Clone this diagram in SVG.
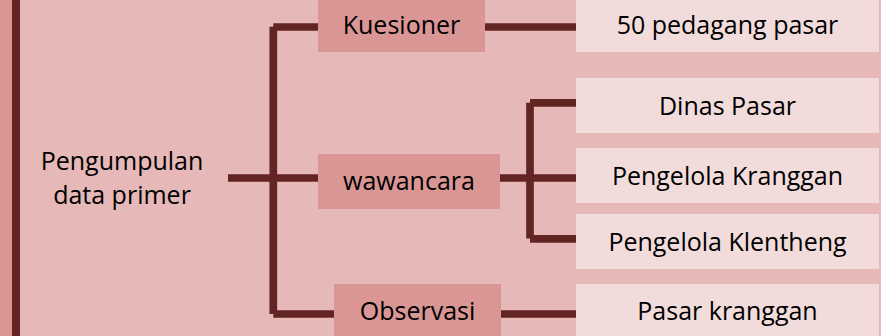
<svg xmlns="http://www.w3.org/2000/svg" width="881" height="336" viewBox="0 0 881 336">
  <style>
    .bg { fill: #E6B8B7; }
    .strip { fill: #DA9694; }
    .mid { fill: #DA9694; }
    .leaf { fill: #F2DCDB; }
    .lbl { font-family: "Open Sans", "Noto Sans", "Liberation Sans", sans-serif; font-size: 25px; fill: #000; text-anchor: middle; }
    .wire { stroke: #632523; stroke-width: 7.7; fill: none; stroke-linecap: butt; }
  </style>

  <!-- backdrop and left band -->
  <rect class="bg" x="0" y="0" width="881" height="336"/>
  <rect class="strip" x="0" y="0" width="12" height="336"/>
  <rect x="12" y="0" width="8" height="336" fill="#632523"/>

  <!-- connectors -->
  <g id="connectors" class="wire">
    <line x1="228" y1="178" x2="318" y2="178"/>
    <line x1="273.3" y1="26.7" x2="273.3" y2="314"/>
    <line x1="273.3" y1="27" x2="318" y2="27"/>
    <line x1="273.3" y1="314" x2="334" y2="314"/>
    <line x1="485" y1="27" x2="576" y2="27"/>
    <line x1="500" y1="178" x2="576" y2="178"/>
    <line x1="530" y1="102.8" x2="530" y2="238.5"/>
    <line x1="530" y1="102.8" x2="576" y2="102.8"/>
    <line x1="530" y1="238.8" x2="576" y2="238.8"/>
    <line x1="501" y1="314" x2="576" y2="314"/>
  </g>

  <!-- root -->
  <g id="root">
    <text class="lbl" x="122" y="170">Pengumpulan</text>
    <text class="lbl" x="122" y="204">data primer</text>
  </g>

  <!-- methods -->
  <g id="kuesioner">
    <rect class="mid" x="318" y="-3" width="167" height="55"/>
    <text class="lbl" x="401.5" y="33.5">Kuesioner</text>
  </g>
  <g id="wawancara">
    <rect class="mid" x="318" y="154" width="182" height="55"/>
    <text class="lbl" x="409" y="190">wawancara</text>
  </g>
  <g id="observasi">
    <rect class="mid" x="334" y="284" width="167" height="55"/>
    <text class="lbl" x="417.5" y="320">Observasi</text>
  </g>

  <!-- sources -->
  <g id="pedagang">
    <rect class="leaf" x="576" y="-3" width="303" height="55"/>
    <text class="lbl" x="727.5" y="33.5">50 pedagang pasar</text>
  </g>
  <g id="dinas-pasar">
    <rect class="leaf" x="576" y="78" width="303" height="55"/>
    <text class="lbl" x="727.5" y="115">Dinas Pasar</text>
  </g>
  <g id="pengelola-kranggan">
    <rect class="leaf" x="576" y="148" width="303" height="55"/>
    <text class="lbl" x="727.5" y="185">Pengelola Kranggan</text>
  </g>
  <g id="pengelola-klentheng">
    <rect class="leaf" x="576" y="214" width="303" height="55"/>
    <text class="lbl" x="727.5" y="250.5">Pengelola Klentheng</text>
  </g>
  <g id="pasar-kranggan">
    <rect class="leaf" x="576" y="284" width="303" height="55"/>
    <text class="lbl" x="727.5" y="320">Pasar kranggan</text>
  </g>
</svg>
